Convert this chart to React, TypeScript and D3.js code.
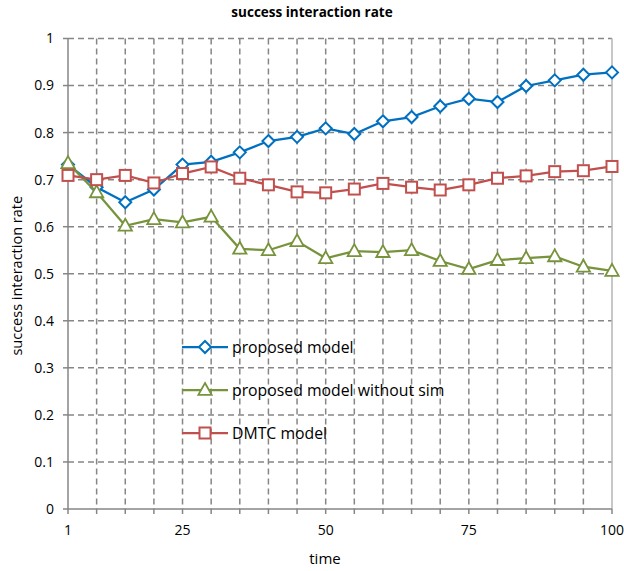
import React from "react";
import * as d3 from "d3";

const timeLabels = ["1", "", "", "", "25", "", "", "", "", "50", "", "", "", "", "75", "", "", "", "", "100"];
const proposed = [0.732, 0.684, 0.652, 0.679, 0.732, 0.738, 0.758, 0.782, 0.791, 0.809, 0.797, 0.824, 0.833, 0.856, 0.872, 0.865, 0.899, 0.911, 0.923, 0.928];
const withoutSim = [0.735, 0.673, 0.602, 0.616, 0.609, 0.621, 0.553, 0.550, 0.569, 0.533, 0.548, 0.546, 0.550, 0.527, 0.510, 0.529, 0.533, 0.537, 0.515, 0.506];
const dmtc = [0.709, 0.700, 0.709, 0.693, 0.713, 0.727, 0.703, 0.689, 0.674, 0.672, 0.680, 0.692, 0.684, 0.678, 0.689, 0.703, 0.708, 0.717, 0.719, 0.728];
const yTicks = [0, 0.1, 0.2, 0.3, 0.4, 0.5, 0.6, 0.7, 0.8, 0.9, 1];
const seriesNames = ["proposed model", "proposed model without sim", "DMTC model"];

const FONT = "'Open Sans', 'Liberation Sans', sans-serif";

export default function App() {
  const W = 624, H = 571;
  const left = 68, right = 612, top = 38.5, bottom = 509;
  const idx = timeLabels.map((_, i) => i);
  const x = d3.scalePoint<number>().domain(idx).range([left, right]);
  const y = d3.scaleLinear().domain([0, 1]).range([bottom, top]);
  const line = d3.line<number>().x((_, i) => x(i)!).y((d) => y(d));

  const series = [
    { name: seriesNames[0], data: proposed, color: "#0070C0", marker: "diamond" },
    { name: seriesNames[1], data: withoutSim, color: "#77933C", marker: "triangle" },
    { name: seriesNames[2], data: dmtc, color: "#C0504D", marker: "square" },
  ];

  const marker = (type: string, cx: number, cy: number, color: string, key: any) => {
    if (type === "diamond") {
      const r = 6;
      return <path key={key} d={`M${cx},${cy - r}L${cx + r},${cy}L${cx},${cy + r}L${cx - r},${cy}Z`} fill="#fff" stroke={color} strokeWidth={2} />;
    }
    if (type === "triangle") {
      const r = 7;
      return <path key={key} d={`M${cx},${cy - r}L${cx + r * 0.95},${cy + r * 0.7}L${cx - r * 0.95},${cy + r * 0.7}Z`} fill="#fff" stroke={color} strokeWidth={1.8} />;
    }
    const s = 5.5;
    return <rect key={key} x={cx - s} y={cy - s} width={2 * s} height={2 * s} fill="#fff" stroke={color} strokeWidth={2} />;
  };

  const legendX = 182, legendY = [347, 390, 433];

  return (
    <svg width={W} height={H} style={{ position: "absolute", left: 0, top: 0, fontFamily: FONT }}>
      <rect width={W} height={H} fill="#fff" />
      {yTicks.filter((t) => t > 0).map((t) => (
        <line key={"h" + t} x1={left} x2={right} y1={y(t)} y2={y(t)} stroke="#868686" strokeWidth={1.5} strokeDasharray="6,4" />
      ))}
      {idx.slice(1, -1).map((i) => (
        <line key={"v" + i} x1={x(i)} x2={x(i)} y1={top} y2={bottom} stroke="#868686" strokeWidth={1.5} strokeDasharray="6,4" />
      ))}
      <line x1={right} x2={right} y1={top} y2={bottom} stroke="#b4b4b4" strokeWidth={1.5} />
      <line x1={left} x2={left} y1={top} y2={bottom} stroke="#868686" strokeWidth={1.5} />
      <line x1={left} x2={right} y1={bottom} y2={bottom} stroke="#868686" strokeWidth={1.5} />
      {yTicks.map((t) => (
        <g key={"yt" + t}>
          <line x1={left - 5} x2={left} y1={y(t)} y2={y(t)} stroke="#868686" strokeWidth={1.5} />
          <text x={54} y={y(t)} dy="0.35em" textAnchor="end" fontSize={14} fill="#000">{String(t)}</text>
        </g>
      ))}
      {idx.map((i) => (
        <g key={"xt" + i}>
          <line x1={x(i)} x2={x(i)} y1={bottom} y2={bottom + 5} stroke="#868686" strokeWidth={1.5} />
          {timeLabels[i] && (
            <text x={x(i)} y={535} textAnchor="middle" fontSize={14} fill="#000">{timeLabels[i]}</text>
          )}
        </g>
      ))}
      {series.map((s) => (
        <g key={s.name}>
          <path d={line(s.data) || ""} fill="none" stroke={s.color} strokeWidth={2.25} />
          {s.data.map((v, i) => marker(s.marker, x(i)!, y(v), s.color, i))}
        </g>
      ))}
      {series.map((s, k) => (
        <g key={"lg" + k}>
          <line x1={legendX} x2={legendX + 46} y1={legendY[k]} y2={legendY[k]} stroke={s.color} strokeWidth={2.25} />
          {marker(s.marker, legendX + 23, legendY[k], s.color, "m")}
          <text x={legendX + 50} y={legendY[k]} dy="0.35em" fontSize={15.8} fill="#000">{s.name}</text>
        </g>
      ))}
      <text x={312} y={17} textAnchor="middle" fontSize={13.5} fontWeight="bold" fill="#000">success interaction rate</text>
      <text x={325} y={564} textAnchor="middle" fontSize={15} fill="#000">time</text>
      <text transform={`translate(22,${(top + bottom) / 2 + 2}) rotate(-90)`} textAnchor="middle" fontSize={14.5} fill="#000">success interaction rate</text>
    </svg>
  );
}
